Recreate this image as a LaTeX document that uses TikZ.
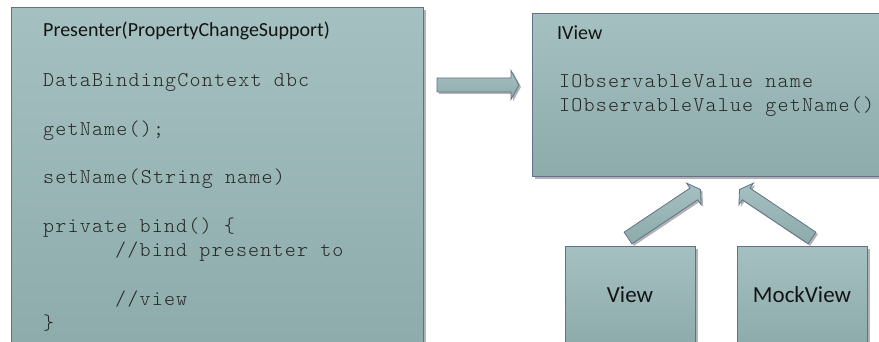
\documentclass[tikz,border=0pt]{standalone}
\usepackage{fontspec}
\setmainfont{Carlito}
\newfontfamily\codefont[LetterSpace=5.6]{lmmonolt10-regular.otf}
\usetikzlibrary{calc,shadows}
\definecolor{boxtop}{RGB}{165,192,192}
\definecolor{boxbot}{RGB}{141,171,171}
\definecolor{boxline}{RGB}{98,112,140}
\definecolor{shadowgray}{RGB}{178,178,178}
\tikzset{
  umlbox/.style={draw=boxline, line width=1pt, top color=boxtop, bottom color=boxbot,
    drop shadow={shadow xshift=2.5pt, shadow yshift=-2.5pt, fill=shadowgray, opacity=1},
    rectangle, inner sep=0pt},
  arrowbody/.style={draw=boxline, line width=0.8pt, top color=boxtop, bottom color=boxbot,
    line join=miter,
    drop shadow={shadow xshift=2pt, shadow yshift=-2pt, fill=shadowgray, opacity=1}},
  titletext/.style={anchor=base west, inner sep=0pt, font=\fontsize{20}{24}\selectfont, text=black!92},
  codetext/.style={anchor=base west, inner sep=0pt, font=\codefont\fontsize{21}{24}\selectfont, text=black!85},
  labeltext/.style={font=\fontsize{23}{27}\selectfont, text=black!92}
}
% block arrow from tail #1 to tip #2, head half width #3
\newcommand\blockarrow[3]{%
  \coordinate (bh) at ($(#2)!8pt!(#1)$);
  \path[arrowbody] ($(#1)!7pt!90:(#2)$) -- ($(bh)!7pt!90:(#2)$) -- ($(bh)!#3!90:(#2)$) -- (#2)
    -- ($(bh)!#3!-90:(#2)$) -- ($(bh)!7pt!-90:(#2)$) -- ($(#1)!7pt!-90:(#2)$) -- cycle;
}
\begin{document}
\begin{tikzpicture}[x=1pt, y=-1pt]
\useasboundingbox (0,0) rectangle (879,342);
% boxes
\node[umlbox, minimum width=412pt, minimum height=350pt, anchor=north west] (presenter) at (11,7) {};
\node[umlbox, minimum width=360pt, minimum height=163pt, anchor=north west] (iview) at (532,13) {};
\node[umlbox, minimum width=130pt, minimum height=100pt] (view) at (630,296) {};
\node[umlbox, minimum width=130pt, minimum height=100pt] (mock) at (802,296) {};
\node[labeltext, anchor=base, inner sep=0pt] (viewlbl) at (630,302) {View};
\node[labeltext, anchor=base, inner sep=0pt] (mocklbl) at (802,302) {MockView};
% presenter text
\node[titletext] (ptitle) at (43,37) {Presenter(PropertyChangeSupport)};
\node[codetext] (p1) at (43,86.7) {DataBindingContext dbc};
\node[codetext] (p2) at (43,135.2) {getName();};
\node[codetext] (p3) at (43,183.8) {setName(String name)};
\node[codetext] (p4) at (43,232.3) {private bind() \{};
\node[codetext] (p5) at (115,256.6) {//bind presenter to};
\node[codetext] (p6) at (115,305.2) {//view};
\node[codetext] (p7) at (43,329.5) {\}};
% iview text
\node[titletext] (ititle) at (557,40) {IView};
\node[codetext] (i1) at (559,88) {IObservableValue name};
\node[codetext] (i2) at (559,112) {IObservableValue getName()};
% arrows
\coordinate (h1) at ($(presenter.north east)+(13,78)$);
\coordinate (h2) at ($(iview.north west)+(-13,72)$);
\blockarrow{h1}{h2}{14.5pt}
\coordinate (l1) at ($(view.north)+(-2,-7.5)$);
\coordinate (l2) at ($(iview.south west)+(168.5,12.5)$);
\blockarrow{l1}{l2}{13pt}
\coordinate (r1) at ($(mock.north)+(10,-7.5)$);
\coordinate (r2) at ($(iview.south west)+(207.5,12.5)$);
\blockarrow{r1}{r2}{13pt}
\end{tikzpicture}
\end{document}
